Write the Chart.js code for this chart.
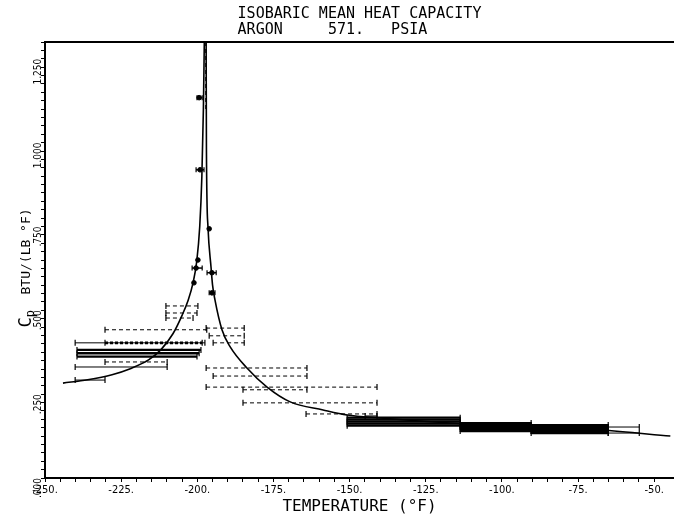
<!DOCTYPE html>
<html>
<head>
<meta charset="UTF-8">
<title>Isobaric mean heat capacity - Argon 571 psia</title>
<script src="https://cdn.jsdelivr.net/npm/chart.js"></script>
<style>html,body{margin:0;background:#fff}</style>
</head>
<body>
<canvas id="chart" width="674" height="517"></canvas>
<script>
// Cp curve (T in °F, Cp in BTU/(lb °F)), one branch each side of the spike
const liqT  = [-244.1,-236.0,-228.0,-222.0,-216.0,-212.0,-208.0,-205.0,-203.0,-201.4,-200.2,-199.2,-198.5,-198.0,-197.7];
const liqCp = [0.283,0.293,0.308,0.326,0.352,0.382,0.430,0.485,0.530,0.582,0.645,0.750,0.900,1.100,1.300];
const vapT  = [-197.1,-197.0,-196.5,-195.5,-195.0,-194.2,-191.9,-189.2,-183.7,-177.1,-169.5,-158.7,-150.8,-140.0,-117.0,-90.7,-67.7,-44.7];
const vapCp = [1.301,0.979,0.749,0.629,0.576,0.531,0.442,0.391,0.328,0.271,0.227,0.203,0.188,0.179,0.164,0.152,0.143,0.125];

// saturation temperature marker (dashed vertical)
const satT  = -197.2;
const satCp = [1.10, 1.30];

// mean Cp over a temperature interval: [from, to, Cp]
const solidBars = [
  [-240.1,-197.5,0.403],
  [-240.1,-209.9,0.331],
  [-240.1,-230.3,0.292],
  [-144.9,-141.0,0.185]
];
const heavyBars = [
  [-239.5,-198.8,0.382],
  [-239.5,-199.4,0.372],
  [-239.5,-200.1,0.362]
];
const dashedBars = [
  [-230.3,-196.9,0.442],
  [-230.3,-209.9,0.346],
  [-210.3,-199.8,0.513],
  [-210.3,-200.1,0.492],
  [-210.3,-201.4,0.477],
  [-197.1,-184.6,0.447],
  [-196.1,-184.6,0.424],
  [-194.8,-184.6,0.403],
  [-197.1,-164.0,0.328],
  [-194.8,-164.0,0.304],
  [-197.1,-141.0,0.271],
  [-185.0,-164.0,0.263],
  [-185.0,-141.0,0.224],
  [-164.3,-141.0,0.191]
];
const boldDashed = [[-230.3,-198.4,0.403]];

// heavy bands of stacked intervals at the gas end
const bandT  = [[-150.8,-113.7],[-113.7,-90.4],[-90.4,-65.1]];
const bandCp = [
  [0.180,0.174,0.168,0.162,0.156],
  [0.164,0.158,0.152,0.146,0.140],
  [0.158,0.152,0.146,0.140,0.134]
];
const tailBars = [[-65.1,-54.9,0.152],[-65.1,-54.9,0.134]];

// measured points near the spike, some with interval bars
const ptT  = [-199.4,-199.1,-196.1,-199.8,-200.4,-195.2,-201.1,-195.2];
const ptCp = [1.134,0.919,0.743,0.650,0.626,0.612,0.582,0.552];
const ptLo = [-200.1,-200.4,null,null,-201.7,-196.8,null,-196.1];
const ptHi = [-198.4,-197.8,null,null,-198.4,-193.8,null,-194.2];

const ink = '#000';
const mono = "'DejaVu Sans Mono', monospace";
const tickFont = "'DejaVu Sans Condensed', 'DejaVu Sans', sans-serif";

const xy = (t, c) => ({x: t, y: c});
const datasets = [];
function addBar(b, opts) {
  datasets.push(Object.assign({
    data: [xy(b[0], b[2]), xy(b[1], b[2])],
    borderColor: ink, borderWidth: 1, tension: 0,
    pointStyle: 'line', pointRotation: 90, pointRadius: 3,
    pointBorderColor: ink, pointBorderWidth: 1.2
  }, opts));
}
solidBars.forEach(b => addBar(b, {}));
heavyBars.forEach(b => addBar(b, {borderWidth: 2.4}));
dashedBars.forEach(b => addBar(b, {borderDash: [4, 3]}));
boldDashed.forEach(b => addBar(b, {borderDash: [3, 2], borderWidth: 2.8}));
bandT.forEach((r, i) => bandCp[i].forEach(c => addBar([r[0], r[1], c], {borderWidth: 2.2})));
tailBars.forEach(b => addBar(b, {}));
ptT.forEach((t, i) => {
  if (ptLo[i] !== null) addBar([ptLo[i], ptHi[i], ptCp[i]], {pointRadius: 2.5, borderWidth: 1.5});
});
datasets.push({
  data: ptT.map((t, i) => xy(t, ptCp[i])), showLine: false,
  pointStyle: 'circle', pointRadius: 2.3, pointBackgroundColor: ink, pointBorderColor: ink
});
datasets.push({
  data: liqT.map((t, i) => xy(t, liqCp[i])), borderColor: ink, borderWidth: 1.6,
  pointRadius: 0, cubicInterpolationMode: 'monotone'
});
datasets.push({
  data: vapT.map((t, i) => xy(t, vapCp[i])), borderColor: ink, borderWidth: 1.6,
  pointRadius: 0, cubicInterpolationMode: 'monotone'
});
datasets.push({
  data: satCp.map(c => xy(satT, c)), borderColor: ink, borderWidth: 1.2,
  borderDash: [4, 3], pointRadius: 0, tension: 0
});

// y title sits in the tick label column, with a subscript p
const yTitle = {
  id: 'yTitle',
  afterDraw(chart) {
    const {ctx, chartArea: a} = chart;
    const big = '17px ' + mono, small = '12px ' + mono, medium = '13px ' + mono;
    const rest = '  BTU/(LB °F)';
    ctx.save();
    ctx.translate(27, (a.top + a.bottom) / 2 + 8);
    ctx.rotate(-Math.PI / 2);
    ctx.fillStyle = ink;
    ctx.textBaseline = 'middle';
    ctx.font = big;    const wC = ctx.measureText('C').width;
    ctx.font = small;  const wP = ctx.measureText('p').width;
    ctx.font = medium; const wR = ctx.measureText(rest).width;
    let x = -(wC + wP + wR) / 2;
    ctx.font = big;    ctx.fillText('C', x, 0); x += wC;
    ctx.font = small;  ctx.fillText('p', x, 4); x += wP;
    ctx.font = medium; ctx.fillText(rest, x, 0);
    ctx.restore();
  }
};

new Chart(document.getElementById('chart'), {
  type: 'line',
  data: {datasets},
  options: {
    responsive: false,
    animation: false,
    events: [],
    layout: {padding: 0, autoPadding: false},
    plugins: {
      legend: {display: false},
      tooltip: {enabled: false},
      title: {
        display: true,
        fullSize: false,
        text: ['ISOBARIC MEAN HEAT CAPACITY', 'ARGON     571.   PSIA'.padEnd(27)],
        color: ink,
        font: {family: mono, size: 15, weight: 'normal', lineHeight: 1.1},
        padding: {top: 5.5, bottom: 2}
      }
    },
    scales: {
      x: {
        type: 'linear', min: -250, max: -43.5,
        afterBuildTicks: s => { s.ticks = s.ticks.filter(t => t.value % 5 === 0); },
        afterFit: s => { s.height = 39; },
        ticks: {
          stepSize: 5, autoSkip: false, maxRotation: 0, padding: 2, color: ink,
          font: {family: tickFont, size: 11},
          callback: v => v % 25 === 0 ? v + '.' : ''
        },
        grid: {display: true, drawOnChartArea: false, tickLength: 4, color: ink, lineWidth: 1},
        border: {display: true, color: ink, width: 2},
        title: {
          display: true, text: 'TEMPERATURE (°F)', color: ink,
          font: {family: mono, size: 16}, padding: {top: 0, bottom: 1}
        }
      },
      x2: {
        type: 'linear', position: 'top', min: -250, max: -43.5,
        afterFit: s => { s.height = 1.5; },
        ticks: {display: false},
        grid: {display: false},
        border: {display: true, color: ink, width: 2}
      },
      y: {
        type: 'linear', min: 0, max: 1.3,
        afterBuildTicks: s => { s.ticks = s.ticks.filter(t => Math.abs(t.value * 40 - Math.round(t.value * 40)) < 1e-6); },
        afterFit: s => { s.width = 45; },
        ticks: {
          stepSize: 0.025, autoSkip: false, minRotation: 90, maxRotation: 90, padding: 3, color: ink,
          font: {family: tickFont, size: 10},
          callback: v => {
            const m = Math.round(v * 1000);
            if (m % 250) return '';
            return m >= 1000 ? (m / 1000).toFixed(3) : '.' + String(m).padStart(3, '0');
          }
        },
        grid: {display: true, drawOnChartArea: false, tickLength: 4, color: ink, lineWidth: 1},
        border: {display: true, color: ink, width: 2}
      }
    }
  },
  plugins: [yTitle]
});
</script>
</body>
</html>
